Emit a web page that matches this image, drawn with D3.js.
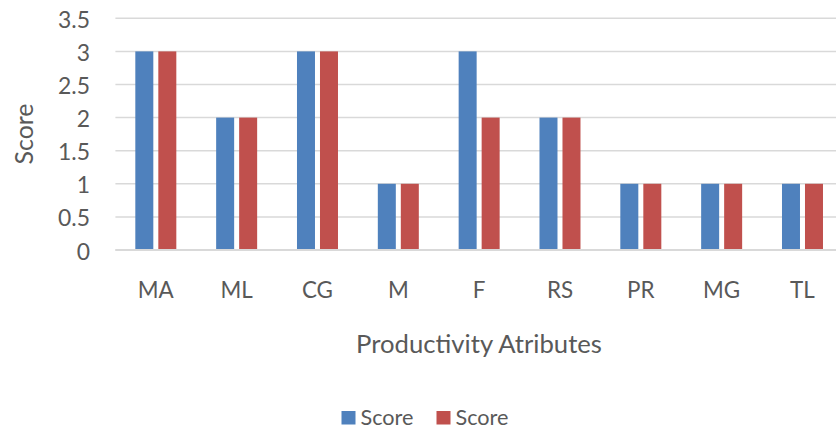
<!DOCTYPE html>
<html>
<head>
<meta charset="utf-8">
<script src="https://cdn.jsdelivr.net/npm/d3@7/dist/d3.min.js"></script>
<style>
  html, body { margin: 0; padding: 0; background: #fff; }
  svg { display: block; }
  text { font-family: Lato, "Open Sans", sans-serif; fill: #595959; }
</style>
</head>
<body>
<svg id="chart" width="836" height="429"></svg>
<script>
// Productivity attributes and the two score series
const categories = ["MA", "ML", "CG", "M", "F", "RS", "PR", "MG", "TL"];
const seriesNames = ["Score", "Score"];
const scoresA = [3, 2, 3, 1, 3, 2, 1, 1, 1];
const scoresB = [3, 2, 3, 1, 2, 2, 1, 1, 1];
const yTicks = [0, 0.5, 1, 1.5, 2, 2.5, 3, 3.5];
const colors = ["#4F81BD", "#C0504D"];

const svg = d3.select("#chart");
const plot = { left: 115.4, right: 842.9, top: 18.3, bottom: 250 };

// font size that makes a sample string occupy a given width
function fitSize(sample, width) {
  const t = svg.append("text").attr("font-size", 100).text(sample);
  const w = t.node().getComputedTextLength();
  t.remove();
  return 100 * width / w;
}
const tickSize = fitSize("3.5", 32);
const catSize = fitSize("MA", 36);
const titleSize = fitSize("Productivity Atributes", 246);
const yTitleSize = fitSize("Score", 61);
const legendSize = fitSize("Score", 53);

const x = d3.scaleBand().domain(categories).range([plot.left, plot.right]).padding(0);
const y = d3.scaleLinear().domain([0, 3.5]).range([plot.bottom, plot.top]);

// bar layout within each category band
const barW = 18, barGap = 5;
const groupW = barW * 2 + barGap;

// gridlines
svg.append("g").selectAll("line").data(yTicks).join("line")
  .attr("x1", plot.left).attr("x2", plot.right)
  .attr("y1", d => y(d)).attr("y2", d => y(d))
  .attr("stroke", "#D9D9D9").attr("stroke-width", 1.5);

// y tick labels
svg.append("g").selectAll("text").data(yTicks).join("text")
  .attr("x", 90).attr("y", d => y(d) + 1.5).attr("dy", "0.35em")
  .attr("text-anchor", "end").attr("font-size", tickSize)
  .text(d => d3.format("")(d));

// bars
const series = [scoresA, scoresB];
series.forEach((vals, si) => {
  svg.append("g").selectAll("rect").data(categories).join("rect")
    .attr("x", (c) => x(c) + x.bandwidth() / 2 - groupW / 2 + si * (barW + barGap))
    .attr("width", barW)
    .attr("y", (c, i) => y(vals[i]))
    .attr("height", (c, i) => y(0) - y(vals[i]))
    .attr("fill", colors[si]);
});

// baseline drawn over the bar feet
svg.append("line")
  .attr("x1", plot.left).attr("x2", plot.right)
  .attr("y1", y(0)).attr("y2", y(0))
  .attr("stroke", "#D9D9D9").attr("stroke-width", 2);

// x tick labels
svg.append("g").selectAll("text").data(categories).join("text")
  .attr("x", c => x(c) + x.bandwidth() / 2).attr("y", 298)
  .attr("text-anchor", "middle").attr("font-size", catSize)
  .text(c => c);

// axis titles
svg.append("text").attr("x", 479).attr("y", 353)
  .attr("text-anchor", "middle").attr("font-size", titleSize)
  .text("Productivity Atributes");

svg.append("text")
  .attr("transform", "translate(33,134) rotate(-90)")
  .attr("text-anchor", "middle").attr("font-size", yTitleSize)
  .text("Score");

// legend
const legendX = [341.5, 436.5];
seriesNames.forEach((name, i) => {
  svg.append("rect").attr("x", legendX[i]).attr("y", 411)
    .attr("width", 14).attr("height", 13.5).attr("fill", colors[i]);
  svg.append("text").attr("x", legendX[i] + 19).attr("y", 424.5)
    .attr("font-size", legendSize).text(name);
});
</script>
</body>
</html>
